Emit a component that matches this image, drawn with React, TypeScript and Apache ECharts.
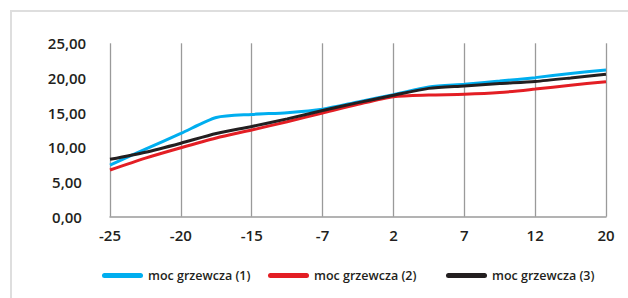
import React, { useEffect, useRef } from "react";
import * as echarts from "echarts";

// 15 slots: category ticks at even indices, intermediate points at odd indices
const categories = ["-25", "", "-20", "", "-15", "", "-7", "", "2", "", "7", "", "12", "", "20"];
const seriesNames = ["moc grzewcza (1)", "moc grzewcza (2)", "moc grzewcza (3)"];
const power1 = [7.45, 9.75, 12.0, 14.3, 14.75, 15.0, 15.5, 16.55, 17.6, 18.7, 19.1, 19.55, 20.05, 20.65, 21.15];
const power2 = [6.73, 8.45, 9.95, 11.35, 12.5, 13.7, 14.95, 16.2, 17.3, 17.55, 17.65, 17.9, 18.4, 18.95, 19.47];
const power3 = [8.27, 9.3, 10.6, 12.0, 13.0, 14.1, 15.3, 16.45, 17.5, 18.5, 18.85, 19.2, 19.5, 20.0, 20.55];
const colors = ["#00AEEF", "#E31E24", "#231F20"];

const FONT = "'Open Sans', 'DejaVu Sans', sans-serif";
const CAPSULE = "path://M2.5,0 H38.5 A2.5,2.5 0 0 1 38.5,5 H2.5 A2.5,2.5 0 0 1 2.5,0 Z";

export default function App() {
  const ref = useRef<HTMLDivElement>(null);
  useEffect(() => {
    document.body.style.margin = "0";
    if (!ref.current) return;
    const chart = echarts.init(ref.current, null, { renderer: "svg" });
    const values = [power1, power2, power3];
    const legendLefts = [97, 263, 441];
    chart.setOption({
      animation: false,
      backgroundColor: "#ffffff",
      graphic: [
        {
          type: "rect",
          shape: { x: 11, y: 11, width: 700, height: 400 },
          style: { fill: "none", stroke: "#dedede", lineWidth: 2 },
          silent: true,
        },
      ],
      grid: { left: 110, right: 22, top: 43.3, bottom: 81.3 },
      legend: seriesNames.map((n, i) => ({
        data: [{ name: n, icon: CAPSULE }],
        left: legendLefts[i],
        top: 264,
        itemWidth: 41,
        itemHeight: 5,
        itemGap: 5,
        textStyle: { fontFamily: FONT, fontSize: 12.5, fontWeight: 600, color: "#231F20" },
      })),
      xAxis: {
        type: "category",
        data: categories,
        boundaryGap: false,
        axisLine: { lineStyle: { color: "#9a9a9a", width: 1.5 } },
        axisTick: { show: false },
        axisLabel: {
          interval: 1,
          margin: 11,
          fontFamily: FONT,
          fontSize: 15,
          fontWeight: 600,
          color: "#231F20",
        },
        splitLine: { show: true, interval: 1, lineStyle: { color: "#9a9a9a", width: 1.3 } },
      },
      yAxis: {
        type: "value",
        min: 0,
        max: 25,
        interval: 5,
        axisLine: { show: false },
        axisTick: { show: false },
        splitLine: { show: false },
        axisLabel: {
          margin: 43,
          align: "center",
          fontFamily: FONT,
          fontSize: 15,
          fontWeight: 600,
          color: "#231F20",
          formatter: (v: number) => v.toFixed(2).replace(".", ","),
        },
      },
      series: values.map((d, i) => ({
        name: seriesNames[i],
        type: "line",
        data: d,
        smooth: 0.25,
        symbol: "none",
        lineStyle: { color: colors[i], width: 3 },
        itemStyle: { color: colors[i] },
      })),
    });
    return () => chart.dispose();
  }, []);
  return <div ref={ref} style={{ width: 628, height: 298 }} />;
}
